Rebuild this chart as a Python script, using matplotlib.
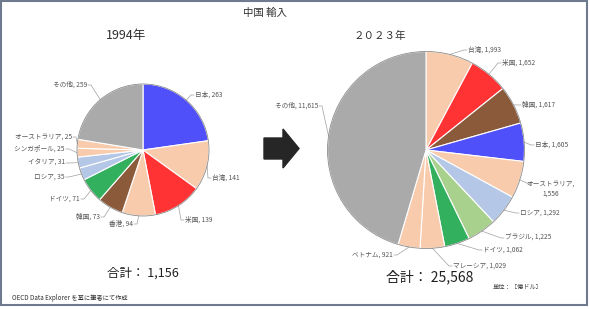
import matplotlib
matplotlib.use("Agg")
import matplotlib.pyplot as plt
from matplotlib.patches import Rectangle, Circle, FancyArrow
import numpy as np

plt.rcParams['font.family'] = ['Noto Sans CJK JP', 'DejaVu Sans']

# ---------------- data ----------------
title = "中国 輸入"
year1 = "1994年"
year2 = "２０２３年"

cats_1994 = ["日本", "台湾", "米国", "香港", "韓国", "ドイツ", "ロシア", "イタリア",
             "シンガポール", "オーストラリア", "その他"]
vals_1994 = [263, 141, 139, 94, 73, 71, 35, 31, 25, 25, 259]
total_1994 = "1,156"

cats_2023 = ["台湾", "米国", "韓国", "日本", "オーストラリア", "ロシア", "ブラジル",
             "ドイツ", "マレーシア", "ベトナム", "その他"]
vals_2023 = [1993, 1652, 1617, 1605, 1556, 1292, 1225, 1062, 1029, 921, 11615]
total_2023 = "25,568"

# ---------------- styles ----------------
C = {"日本": "#5050FA", "台湾": "#F8CBAD", "米国": "#FF3333", "香港": "#F8CBAD",
     "韓国": "#8B5A3B", "ドイツ": "#33B05E", "ロシア": "#B4C7E7", "イタリア": "#B4C7E7",
     "シンガポール": "#F8CBAD", "オーストラリア": "#F8CBAD", "その他": "#AAAAAA",
     "ブラジル": "#A9D18E", "マレーシア": "#F8CBAD", "ベトナム": "#F8CBAD"}

W, H = 590, 309
fig = plt.figure(figsize=(W / 100, H / 100), dpi=100)
ax = fig.add_axes([0, 0, 1, 1])

def fmt_label(c, v, two_line=False):
    sep = ",\n" if two_line else ", "
    return f"{c}{sep}{v:,}"

# label layout (pixel positions of text anchors)
lay_1994 = [(195, 95, 'left'), (212, 178, 'left'), (185, 220, 'left'),
            (133, 224, 'right'), (100, 217, 'right'), (80, 199, 'right'),
            (65, 177, 'right'), (65, 163, 'right'), (65, 149, 'right'),
            (72, 137, 'right'), (87, 85, 'right')]
lay_2023 = [(468, 50, 'left'), (502, 63, 'left'), (522, 105, 'left'),
            (535, 145, 'left'), (551, 189, 'center'), (520, 213, 'left'),
            (505, 238, 'left'), (483, 250, 'left'), (453, 266, 'left'),
            (393, 255, 'right'), (318, 106, 'right')]

def draw_pie(cats, vals, center, radius, layout, twoline=()):
    wedges, _ = ax.pie(vals, colors=[C[c] for c in cats], center=center, radius=radius,
                       startangle=-90, counterclock=True,
                       wedgeprops=dict(edgecolor='white', linewidth=0.8))
    ax.add_patch(Circle(center, radius, fill=False, edgecolor='#8C8C8C', linewidth=0.6, zorder=3))
    for w, c, v, (tx, ty, ha) in zip(wedges, cats, vals, layout):
        th = np.deg2rad((w.theta1 + w.theta2) / 2)
        ex = center[0] + radius * np.cos(th)
        ey = center[1] + radius * np.sin(th)
        two = c in twoline
        ax.text(tx, ty, fmt_label(c, v, two), ha=ha, va='center', fontsize=4.8,
                color='#555555', linespacing=1.3, multialignment='center')
        if ha == 'left':
            ax.plot([ex, tx - 4, tx - 1], [ey, ty, ty], color='#A0A0A0', lw=0.5)
        elif ha == 'right':
            ax.plot([ex, tx + 4, tx + 1], [ey, ty, ty], color='#A0A0A0', lw=0.5)
        else:
            ax.plot([ex, tx - 20, tx - 20], [ey, ty - 4, ty - 4], color='#A0A0A0', lw=0.5)

draw_pie(cats_1994, vals_1994, (143, 150), 66, lay_1994)
draw_pie(cats_2023, vals_2023, (426, 150), 98.5, lay_2023, twoline=("オーストラリア",))

ax.set_xlim(0, W)
ax.set_ylim(H, 0)
ax.set_aspect('auto')
ax.axis('off')

# frame
ax.add_patch(Rectangle((1, 1), 586, 304, fill=False, edgecolor='#6F7A8F', linewidth=1.5, zorder=5))

# arrow
ax.add_patch(FancyArrow(264, 148.5, 19, 0, width=21, head_width=39, head_length=16,
                        length_includes_head=False, color='#262626', zorder=4))

# texts
ax.text(265, 13, title, ha='center', va='center', fontsize=7.5, color='#303030')
ax.text(126, 36, year1, ha='center', va='center', fontsize=9, color='#303030')
ax.text(380, 36, year2, ha='center', va='center', fontsize=7.6, color='#303030')
ax.text(143, 273, f"合計： {total_1994}", ha='center', va='center', fontsize=9, color='#202020')
ax.text(430, 277, f"合計： {total_2023}", ha='center', va='center', fontsize=10, color='#202020')
ax.text(493, 287, "単位：［億ドル］", ha='left', va='center', fontsize=4.5, color='#404040')
ax.text(12, 298, "OECD Data Explorer を基に筆者にて作成", ha='left', va='center', fontsize=4.5,
        color='#303030')

fig.savefig("out.png", dpi=100, facecolor='white')
